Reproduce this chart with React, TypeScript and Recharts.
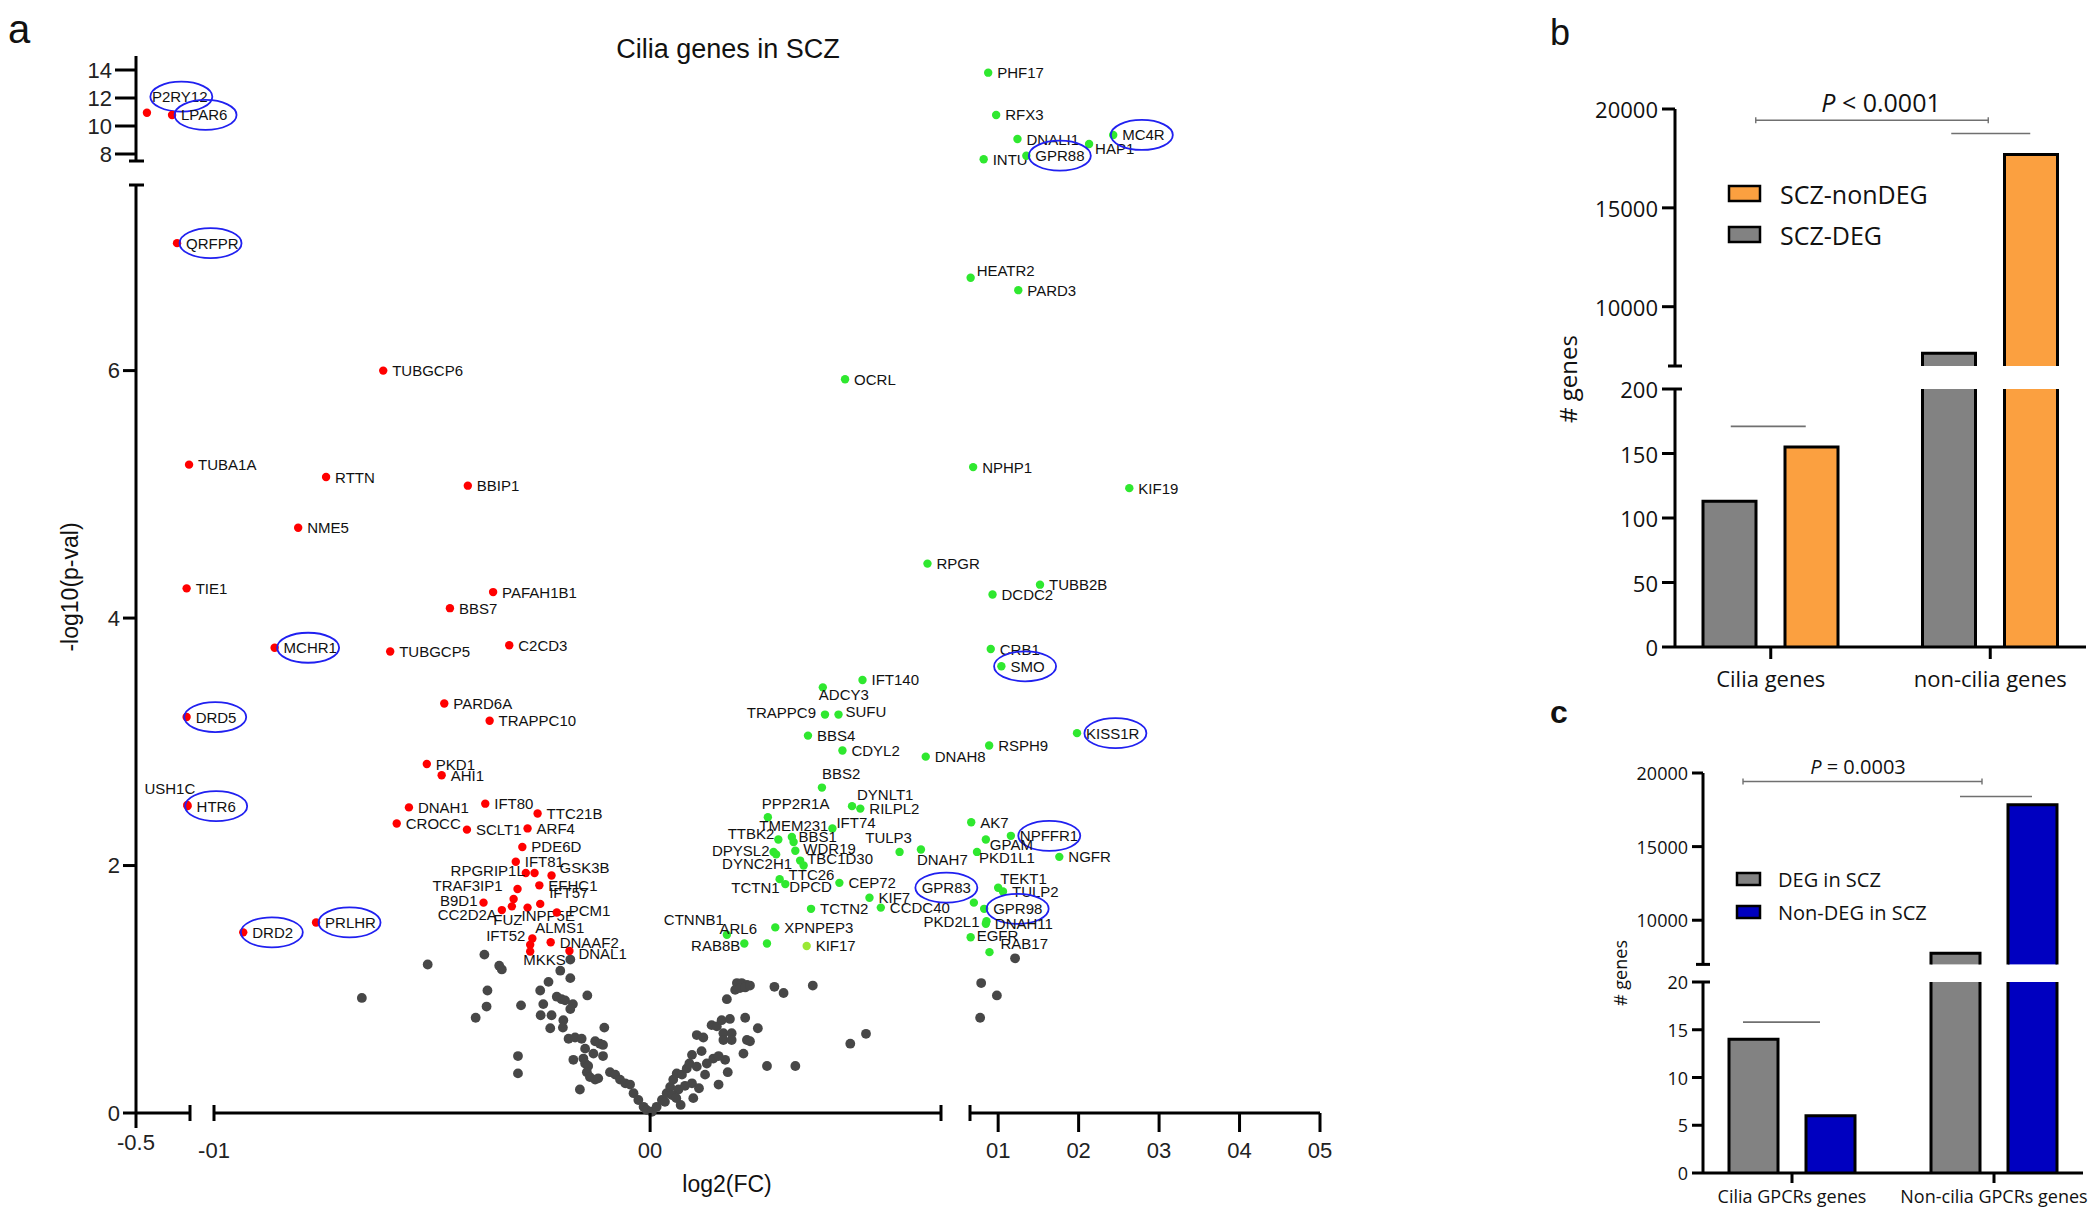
import { Bar, BarChart, Legend, ReferenceLine, Scatter, ScatterChart, XAxis, YAxis } from "recharts";

const SANS = "'Liberation Sans', Arial, sans-serif";
const OPEN = "'Open Sans', sans-serif";
const RED = "#ff0000";
const GREEN = "#2fe82f";
const LIME = "#9be835";
const DARK = "#474747";
const ORANGE = "#fba040";
const GREY_BAR = "#828282";
const BLUE = "#0000c0";
const RING = "#2020f0";
const LINE = "#707070";

// ---- panel a data: [gene, log2(FC), -log10(p)] ----
type Gene = [string, number, number];

const RED_GENES: Gene[] = [
  ["P2RY12", -0.419, 10.95], ["LPAR6", -0.233, 10.79], ["QRFPR", -0.196, 7.03],
  ["TUBGCP6", -0.0612, 6.0], ["TUBA1A", -0.107, 5.24], ["RTTN", -0.0743, 5.14],
  ["BBIP1", -0.0418, 5.07], ["NME5", -0.0807, 4.73], ["TIE1", -0.125, 4.24],
  ["PAFAH1B1", -0.036, 4.21], ["BBS7", -0.0459, 4.08], ["MCHR1", -0.0861, 3.76],
  ["TUBGCP5", -0.0596, 3.73], ["C2CD3", -0.0323, 3.78], ["PARD6A", -0.0472, 3.31],
  ["TRAPPC10", -0.0368, 3.17], ["DRD5", -0.125, 3.2], ["PKD1", -0.0512, 2.82],
  ["AHI1", -0.0478, 2.73], ["USH1C", -0.12, 2.49], ["HTR6", -0.118, 2.48],
  ["DNAH1", -0.0553, 2.47], ["IFT80", -0.0378, 2.5], ["TTC21B", -0.0258, 2.42],
  ["CROCC", -0.0581, 2.34], ["SCLT1", -0.042, 2.29], ["ARF4", -0.0281, 2.3],
  ["PDE6D", -0.0293, 2.15], ["IFT81", -0.0308, 2.03], ["RPGRIP1L", -0.0285, 1.94],
  ["", -0.0265, 1.94], ["GSK3B", -0.0226, 1.92], ["EFHC1", -0.0254, 1.84],
  ["TRAF3IP1", -0.0304, 1.81], ["IFT57", -0.0252, 1.69], ["B9D1", -0.0382, 1.7],
  ["", -0.0313, 1.73], ["FUZ", -0.0317, 1.67], ["CC2D2A", -0.034, 1.64],
  ["INPP5E", -0.0281, 1.66], ["PCM1", -0.0214, 1.62], ["IFT52", -0.027, 1.41],
  ["ALMS1", -0.0275, 1.36], ["DNAAF2", -0.0228, 1.38], ["DNAL1", -0.0185, 1.31],
  ["MKKS", -0.0275, 1.305], ["DRD2", -0.0933, 1.46], ["PRLHR", -0.0766, 1.54],
];

const GREEN_GENES: Gene[] = [
  ["PHF17", 0.0876, 13.81], ["RFX3", 0.0975, 10.79], ["DNALI1", 0.124, 9.07],
  ["HAP1", 0.213, 8.71], ["MC4R", 0.243, 9.36], ["INTU", 0.082, 7.62],
  ["GPR88", 0.135, 7.88], ["HEATR2", 0.0658, 6.75], ["PARD3", 0.125, 6.65],
  ["OCRL", 0.0447, 5.93], ["NPHP1", 0.0689, 5.22], ["KIF19", 0.263, 5.05],
  ["RPGR", 0.0636, 4.44], ["TUBB2B", 0.152, 4.27], ["DCDC2", 0.093, 4.19],
  ["CRB1", 0.0908, 3.75], ["SMO", 0.104, 3.61], ["IFT140", 0.0487, 3.5],
  ["ADCY3", 0.0396, 3.44], ["TRAPPC9", 0.0401, 3.22], ["SUFU", 0.0432, 3.22],
  ["BBS4", 0.0362, 3.05], ["CDYL2", 0.0441, 2.93], ["DNAH8", 0.0632, 2.88],
  ["RSPH9", 0.0888, 2.97], ["KISS1R", 0.198, 3.07], ["BBS2", 0.0394, 2.63],
  ["DYNLT1", 0.0463, 2.48], ["RILPL2", 0.0482, 2.46], ["PPP2R1A", 0.027, 2.39],
  ["IFT74", 0.0418, 2.3], ["TMEM231", 0.0325, 2.23], ["TTBK2", 0.0294, 2.21],
  ["BBS1", 0.0329, 2.19], ["WDR19", 0.0333, 2.12], ["DPYSL2", 0.0283, 2.11],
  ["DYNC2H1", 0.0289, 2.09], ["TBC1D30", 0.0344, 2.04], ["TTC26", 0.0352, 2.0],
  ["TCTN1", 0.0297, 1.89], ["DPCD", 0.031, 1.85], ["TULP3", 0.0572, 2.11],
  ["DNAH7", 0.0621, 2.13], ["AK7", 0.0665, 2.35], ["NPFFR1", 0.1158, 2.24],
  ["GPAM", 0.0847, 2.21], ["PKD1L1", 0.0737, 2.11], ["NGFR", 0.176, 2.07],
  ["CEP72", 0.0434, 1.86], ["KIF7", 0.0503, 1.74], ["CCDC40", 0.0529, 1.66],
  ["TCTN2", 0.0369, 1.65], ["GPR83", 0.0698, 1.7], ["TEKT1", 0.1, 1.82],
  ["TULP2", 0.106, 1.79], ["GPR98", 0.0826, 1.65], ["PKD2L1", 0.0855, 1.55],
  ["DNAH11", 0.0847, 1.53], ["EGFR", 0.0658, 1.42], ["RAB17", 0.0892, 1.3],
  ["CTNNB1", 0.0176, 1.44], ["ARL6", 0.0268, 1.37], ["XPNPEP3", 0.0287, 1.5],
  ["RAB8B", 0.0216, 1.37],
];

const LIME_GENES: Gene[] = [["KIF17", 0.0359, 1.35]];

const GREY_POINTS: [number, number][] = [
  [-0.0661, 0.93], [-0.051, 1.2], [-0.038, 1.28], [-0.0346, 1.19], [-0.034, 1.16], [-0.0373, 0.99],
  [-0.0375, 0.86], [-0.04, 0.77], [-0.0296, 0.87], [-0.0303, 0.46], [-0.0303, 0.32],
  [-0.0183, 1.24], [-0.0206, 1.15], [-0.0183, 1.09], [-0.0233, 1.06], [-0.0252, 0.99], [-0.0144, 0.95],
  [-0.0214, 0.94], [-0.0203, 0.92], [-0.0195, 0.91], [-0.0177, 0.88], [-0.0183, 0.84], [-0.0245, 0.88],
  [-0.0251, 0.79], [-0.0226, 0.79], [-0.0199, 0.75], [-0.02, 0.69], [-0.0229, 0.685], [-0.0105, 0.69],
  [-0.0187, 0.6], [-0.0172, 0.61], [-0.0157, 0.6], [-0.0126, 0.58], [-0.0115, 0.56], [-0.0108, 0.55],
  [-0.0149, 0.52], [-0.0108, 0.46], [-0.013, 0.48], [-0.0176, 0.43], [-0.0153, 0.44], [-0.0149, 0.4],
  [-0.0142, 0.38], [-0.0145, 0.33], [-0.0138, 0.29], [-0.0126, 0.27], [-0.0119, 0.28], [-0.0161, 0.19],
  [-0.0092, 0.33], [-0.008, 0.31], [-0.0069, 0.27], [-0.0057, 0.24], [-0.0046, 0.23], [-0.0038, 0.16],
  [-0.0027, 0.105], [-0.0015, 0.05], [-0.0008, 0.025], [0.0004, 0.01],
  [0.0015, 0.05], [0.0027, 0.105], [0.0038, 0.16], [0.0046, 0.21], [0.0053, 0.27], [0.0061, 0.32],
  [0.0065, 0.19], [0.0034, 0.09], [0.005, 0.145], [0.0073, 0.31], [0.0084, 0.36], [0.0096, 0.47],
  [0.009, 0.4], [0.0099, 0.12], [0.007, 0.065], [0.0096, 0.24], [0.0107, 0.375], [0.0126, 0.31],
  [0.0157, 0.23], [0.0178, 0.33], [0.0145, 0.44], [0.0172, 0.43], [0.0157, 0.46], [0.0214, 0.48],
  [0.0107, 0.63], [0.0122, 0.61], [0.0141, 0.71], [0.0153, 0.7], [0.0164, 0.75], [0.0183, 0.76],
  [0.0168, 0.645], [0.0187, 0.645], [0.0168, 0.59], [0.0187, 0.59], [0.0218, 0.77], [0.0247, 0.685],
  [0.0222, 0.59], [0.0229, 0.58], [0.0268, 0.38], [0.0333, 0.38], [0.0459, 0.56], [0.0495, 0.64],
  [0.0199, 1.05], [0.021, 1.05], [0.0222, 1.035], [0.0195, 0.995], [0.0206, 1.01], [0.0218, 1.015],
  [0.0229, 1.03], [0.0176, 0.92], [0.0285, 1.02], [0.0306, 0.97], [0.0373, 1.03],
  [0.0112, 0.2], [0.0118, 0.5], [0.008, 0.22], [0.006, 0.12], [0.013, 0.4],
  [0.0789, 1.05], [0.0984, 0.95], [0.0776, 0.77], [0.121, 1.25],
];

const GPCR_GENES = [
  "P2RY12", "LPAR6", "QRFPR", "MCHR1", "DRD5", "HTR6", "DRD2", "PRLHR",
  "GPR88", "MC4R", "SMO", "KISS1R", "NPFFR1", "GPR83", "GPR98",
];

const P_CUTOFF = 1.301;
const X_TICKS = [-0.5, -0.1, 0, 0.1, 0.2, 0.3, 0.4, 0.5];
const X_TICK_TEXT = ["-0.5", "-01", "00", "01", "02", "03", "04", "05"];

// ---- panel b / c data ----
const B_CATS = ["Cilia genes", "non-cilia genes"];
const B_DEG = [113, 7650];
const B_NONDEG = [155, 17700];

const C_CATS = ["Cilia GPCRs genes", "Non-cilia GPCRs genes"];
const C_DEG = [14, 7750];
const C_NONDEG = [6, 17850];

// label placement exceptions: [dx, dy, anchor]
const LABEL_AT: Record<string, [number, number, string]> = {
  P2RY12: [5, -16, "start"], USH1C: [8, -16, "end"], RPGRIP1L: [-1, -2, "end"],
  TRAF3IP1: [-15, -4, "end"], B9D1: [-6, -2, "end"], CC2D2A: [-5, 4, "end"],
  FUZ: [-4, 13, "middle"], INPP5E: [-6, 8, "start"], PCM1: [12, -2, "start"],
  IFT57: [9, -11, "start"], GSK3B: [8, -8, "start"], ALMS1: [5, -17, "start"],
  IFT52: [-7, -3, "end"], MKKS: [-7, 8, "start"], DNAL1: [9, 3, "start"],
  HEATR2: [6, -7, "start"], HAP1: [6, 4, "start"], ADCY3: [-4, 7, "start"],
  TRAPPC9: [-9, -2, "end"], SUFU: [7, -3, "start"], BBS2: [0, -14, "start"],
  DYNLT1: [5, -12, "start"], PPP2R1A: [-6, -14, "start"], TMEM231: [2, -12, "middle"],
  IFT74: [4, -6, "start"], TTBK2: [-4, -6, "end"], BBS1: [5, -6, "start"],
  WDR19: [8, -2, "start"], DPYSL2: [-4, -1, "end"], DYNC2H1: [16, 9, "end"],
  TBC1D30: [7, -2, "start"], TTC26: [-15, 9, "start"], TCTN1: [0, 8, "end"],
  DPCD: [4, 2, "start"], CTNNB1: [-3, -15, "end"], ARL6: [-10, -15, "end"],
  RAB8B: [-4, 2, "end"], TULP3: [-11, -14, "middle"], DNAH7: [-4, 10, "start"],
  GPAM: [4, 5, "start"], PKD1L1: [2, 6, "start"], TEKT1: [2, -9, "start"],
  PKD2L1: [-7, 0, "end"], EGFR: [6, -2, "start"], RAB17: [11, -9, "start"],
  GPR83: [-3, -15, "end"],
};

// ---- panel a layout (broken axes) ----
const X_BREAKS = [-0.1, 0.065];
const X_SEGS = [
  { domain: [-0.5, -0.1], left: 136, right: 190, ticks: [-0.5, -0.1], caps: [-0.1], labelled: [-0.5] },
  { domain: [-0.1, 0.0667], left: 214, right: 941, ticks: [-0.1, 0, 0.0667], caps: [-0.1, 0.0667], labelled: [-0.1, 0] },
  { domain: [0.065, 0.5], left: 970, right: 1320, ticks: [0.065, 0.1, 0.2, 0.3, 0.4, 0.5], caps: [0.065], labelled: [0.1, 0.2, 0.3, 0.4, 0.5] },
];
const Y_SEGS = [
  { domain: [7.5, 15], top: 56, bottom: 161, ticks: [7.5, 8, 10, 12, 14], caps: [7.5], tickLen: 21 },
  { domain: [0, 7.5], top: 185, bottom: 1113, ticks: [0, 2, 4, 6, 7.5], caps: [7.5], tickLen: 13 },
];
const PAD = 70;

const near = (a: number, b: number) => Math.abs(a - b) < 1e-9;
const toPts = (list: Gene[]) => list.map(([name, x, y]) => ({ name, x, y }));
const GREY_PTS = GREY_POINTS.map(([x, y]) => ({ name: "", x, y }));

function inX(i: number, x: number) {
  if (i === 0) return x < X_BREAKS[0];
  if (i === 1) return x >= X_BREAKS[0] && x < X_BREAKS[1];
  return x >= X_BREAKS[1];
}
const inY = (i: number, y: number) => (i === 0 ? y >= 7.5 : y < 7.5);

function makeDot(color: string, r: number) {
  return (p: any) => {
    const { cx, cy, payload } = p;
    if (cx == null || cy == null) return <g />;
    const name: string = payload.name;
    if (!name) return <circle cx={cx} cy={cy} r={r} fill={color} />;
    const [dx, dy, anchor] = LABEL_AT[name] ?? [9, 0, "start"];
    const tx = cx + dx;
    const ty = cy + dy;
    const w = name.length * 9.8;
    const mid = anchor === "start" ? tx + w / 2 : anchor === "end" ? tx - w / 2 : tx;
    return (
      <g>
        <circle cx={cx} cy={cy} r={r} fill={color} />
        <text x={tx} y={ty} textAnchor={anchor} dominantBaseline="central" fontFamily={SANS} fontSize={15} fill="#111">
          {name}
        </text>
        {GPCR_GENES.includes(name) && (
          <ellipse cx={mid} cy={ty} rx={31} ry={15} fill="none" stroke={RING} strokeWidth={1.8} />
        )}
      </g>
    );
  };
}

const greyDot = makeDot(DARK, 4.9);
const redDot = makeDot(RED, 4.2);
const greenDot = makeDot(GREEN, 4.2);
const limeDot = makeDot(LIME, 4.2);

function XTick({ x, y, payload, seg }: any) {
  const v = payload.value;
  const cap = seg.caps.some((c: number) => near(c, v));
  const lab = seg.labelled.some((c: number) => near(c, v));
  const idx = X_TICKS.findIndex((t) => near(t, v));
  const first = near(v, -0.5);
  return (
    <g>
      {cap && <line x1={x} x2={x} y1={y - 8} y2={y + 8} stroke="#000" strokeWidth={3} />}
      {lab && !cap && <line x1={x} x2={x} y1={y} y2={y + (first ? 15 : 19)} stroke="#000" strokeWidth={3} />}
      {lab && (
        <text x={x} y={y + (first ? 37 : 45)} textAnchor="middle" fontFamily={SANS} fontSize={22} fill="#222">
          {X_TICK_TEXT[idx]}
        </text>
      )}
    </g>
  );
}

function YTick({ x, y, payload, seg }: any) {
  const v = payload.value;
  if (seg.caps.some((c: number) => near(c, v))) {
    return <line x1={x - 7} x2={x + 8} y1={y} y2={y} stroke="#000" strokeWidth={3} />;
  }
  return (
    <g>
      <line x1={x - seg.tickLen} x2={x} y1={y} y2={y} stroke="#000" strokeWidth={3} />
      <text x={x - seg.tickLen - 3} y={y} textAnchor="end" dominantBaseline="central" fontFamily={SANS} fontSize={22} fill="#222">
        {v}
      </text>
    </g>
  );
}

function VolcanoSegment({ xi, yi }: { xi: number; yi: number }) {
  const xs = X_SEGS[xi];
  const ys = Y_SEGS[yi];
  const showX = yi === 1;
  const showY = xi === 0;
  const pick = (pts: any[]) => pts.filter((p) => inX(xi, p.x) && inY(yi, p.y));
  return (
    <div style={{ position: "absolute", left: xs.left - PAD, top: ys.top - PAD }}>
      <ScatterChart
        width={xs.right - xs.left + 2 * PAD}
        height={ys.bottom - ys.top + 2 * PAD}
        margin={{ top: PAD, right: PAD, bottom: showX ? 0 : PAD, left: showY ? 0 : PAD }}
      >
        <XAxis
          type="number"
          dataKey="x"
          domain={xs.domain}
          hide={!showX}
          height={PAD}
          ticks={xs.ticks}
          interval={0}
          tickSize={0}
          tickMargin={0}
          tickLine={false}
          axisLine={{ stroke: "#000", strokeWidth: 3 }}
          tick={(p: any) => <XTick {...p} seg={xs} />}
        />
        <YAxis
          type="number"
          dataKey="y"
          domain={ys.domain}
          hide={!showY}
          width={PAD}
          ticks={ys.ticks}
          interval={0}
          tickSize={0}
          tickMargin={0}
          tickLine={false}
          axisLine={{ stroke: "#000", strokeWidth: 3 }}
          tick={(p: any) => <YTick {...p} seg={ys} />}
        />
        <Scatter data={pick(GREY_PTS)} shape={greyDot} isAnimationActive={false} />
        <Scatter data={pick(toPts(RED_GENES))} shape={redDot} isAnimationActive={false} />
        <Scatter data={pick(toPts(GREEN_GENES))} shape={greenDot} isAnimationActive={false} />
        <Scatter data={pick(toPts(LIME_GENES))} shape={limeDot} isAnimationActive={false} />
      </ScatterChart>
    </div>
  );
}

function CutoffLine() {
  const ys = Y_SEGS[1];
  const left = X_SEGS[0].left;
  const right = X_SEGS[2].right;
  return (
    <div style={{ position: "absolute", left, top: ys.top }}>
      <ScatterChart width={right - left} height={ys.bottom - ys.top} margin={{ top: 0, right: 0, bottom: 0, left: 0 }}>
        <XAxis type="number" dataKey="x" domain={[0, 1]} hide />
        <YAxis type="number" dataKey="y" domain={ys.domain} hide />
        <Scatter data={[]} isAnimationActive={false} />
        <ReferenceLine y={P_CUTOFF} stroke="#000" strokeWidth={1.6} ifOverflow="visible" />
      </ScatterChart>
    </div>
  );
}

// ---- panels b and c (broken bar charts) ----
const PADL = 110;
const PADT = 60;
const PADR = 30;
const PADB = 60;

function barShape(fill: string, raw: string, part: string, lowMax: number) {
  return (p: any) => {
    const { x, y, width, height, payload } = p;
    if (x == null || !height || height <= 0) return <g />;
    const openTop = part === "low" && payload[raw] > lowMax;
    const d = openTop
      ? `M${x},${y + height}V${y}M${x + width},${y}V${y + height}`
      : `M${x},${y + height}V${y}H${x + width}V${y + height}`;
    return (
      <g>
        <rect x={x} y={y} width={width} height={height} fill={fill} />
        <path d={d} fill="none" stroke="#000" strokeWidth={3} />
      </g>
    );
  };
}

function lineShape(dl: number, dr: number, bracket: boolean) {
  return (p: any) => {
    const { x1, y1, x2 } = p;
    if (x1 == null) return <g />;
    const a = x1 + dl;
    const b = x2 + dr;
    return (
      <g>
        <line x1={a} x2={b} y1={y1} y2={y1} stroke={LINE} strokeWidth={1.6} />
        {bracket && <line x1={a} x2={a} y1={y1 - 3} y2={y1 + 3} stroke={LINE} strokeWidth={1.4} />}
        {bracket && <line x1={b} x2={b} y1={y1 - 3} y2={y1 + 3} stroke={LINE} strokeWidth={1.4} />}
      </g>
    );
  };
}

function BrokenBars({ cats, deg, non, color, legend, g }: any) {
  const rows = cats.map((cat: string, i: number) => ({
    cat,
    deg: deg[i],
    non: non[i],
    degLow: Math.min(deg[i], g.lowMax),
    nonLow: Math.min(non[i], g.lowMax),
    degHigh: deg[i] > g.highMin ? deg[i] : null,
    nonHigh: non[i] > g.highMin ? non[i] : null,
  }));
  const width = g.right - g.left + PADL + PADR;
  const yTick = (ticks: any) => (p: any) => {
    const { x, y, payload } = p;
    const v = payload.value;
    if (v === ticks.cap) return <line x1={x - 7} x2={x + 7} y1={y} y2={y} stroke="#000" strokeWidth={3} />;
    return (
      <g>
        <line x1={x - g.tickLen} x2={v === ticks.stub ? x + 7 : x} y1={y} y2={y} stroke="#000" strokeWidth={3} />
        <text x={x - g.tickLen - 4} y={y} textAnchor="end" dominantBaseline="central" fontFamily={OPEN} fontSize={g.font} fill="#111">
          {v}
        </text>
      </g>
    );
  };
  const xTick = (p: any) => (
    <g>
      <line x1={p.x} x2={p.x} y1={p.y} y2={p.y + g.xTickLen} stroke="#000" strokeWidth={3} />
      <text x={p.x} y={p.y + g.xLabelDy} textAnchor="middle" dominantBaseline="central" fontFamily={OPEN} fontSize={g.font} fill="#111">
        {p.payload.value}
      </text>
    </g>
  );
  const legendBox = () => (
    <svg width={g.legendW} height={g.legendRow * 2 + 4} style={{ overflow: "visible" }}>
      {legend.map((it: any, i: number) => (
        <g key={it.label} transform={`translate(2, ${2 + i * g.legendRow})`}>
          <rect width={g.swatchW} height={g.swatchH} fill={it.color} stroke="#000" strokeWidth={2.5} />
          <text x={g.legendText} y={g.swatchH / 2} dominantBaseline="central" fontFamily={OPEN} fontSize={g.legendFont} fill="#111">
            {it.label}
          </text>
        </g>
      ))}
    </svg>
  );
  const upTop = g.highTop - PADT;
  const lowTop = g.lowTop - PADT;
  return (
    <>
      <div style={{ position: "absolute", left: g.left - PADL, top: upTop }}>
        <BarChart
          width={width}
          height={g.highBottom - g.highTop + PADT + PADB}
          data={rows}
          barGap={g.barGap}
          margin={{ top: PADT, right: PADR, bottom: PADB, left: 0 }}
        >
          <XAxis dataKey="cat" type="category" hide padding={{ left: g.pad, right: g.pad }} />
          <YAxis
            type="number"
            domain={[g.highMin, g.highMax]}
            ticks={g.highTicks}
            interval={0}
            width={PADL}
            tickSize={0}
            tickMargin={0}
            tickLine={false}
            axisLine={{ stroke: "#000", strokeWidth: 3 }}
            tick={yTick({ cap: g.highMin, stub: null })}
          />
          <Bar dataKey="degHigh" barSize={g.barSize} shape={barShape(GREY_BAR, "deg", "high", g.lowMax)} isAnimationActive={false} />
          <Bar dataKey="nonHigh" barSize={g.barSize} shape={barShape(color, "non", "high", g.lowMax)} isAnimationActive={false} />
          <ReferenceLine
            segment={[{ x: cats[0], y: g.bracketY }, { x: cats[1], y: g.bracketY }]}
            ifOverflow="visible"
            shape={lineShape(g.bracketDl, g.bracketDr, true)}
          />
          <ReferenceLine
            segment={[{ x: cats[1], y: g.upLineY }, { x: cats[1], y: g.upLineY }]}
            ifOverflow="visible"
            shape={lineShape(g.upDl, g.upDr, false)}
          />
          <Legend
            layout="vertical"
            align="center"
            verticalAlign="middle"
            wrapperStyle={{ left: g.legendX - (g.left - PADL), top: g.legendY - upTop, width: g.legendW }}
            content={legendBox}
          />
        </BarChart>
      </div>
      <div style={{ position: "absolute", left: g.left - PADL, top: lowTop }}>
        <BarChart
          width={width}
          height={g.lowBottom - g.lowTop + PADT + PADB}
          data={rows}
          barGap={g.barGap}
          margin={{ top: PADT, right: PADR, bottom: 0, left: 0 }}
        >
          <XAxis
            dataKey="cat"
            type="category"
            height={PADB}
            padding={{ left: g.pad, right: g.pad }}
            interval={0}
            tickSize={0}
            tickMargin={0}
            tickLine={false}
            axisLine={{ stroke: "#000", strokeWidth: 3 }}
            tick={xTick}
          />
          <YAxis
            type="number"
            domain={[0, g.lowMax]}
            ticks={g.lowTicks}
            interval={0}
            width={PADL}
            tickSize={0}
            tickMargin={0}
            tickLine={false}
            axisLine={{ stroke: "#000", strokeWidth: 3 }}
            tick={yTick({ cap: null, stub: g.lowMax })}
          />
          <Bar dataKey="degLow" barSize={g.barSize} shape={barShape(GREY_BAR, "deg", "low", g.lowMax)} isAnimationActive={false} />
          <Bar dataKey="nonLow" barSize={g.barSize} shape={barShape(color, "non", "low", g.lowMax)} isAnimationActive={false} />
          <ReferenceLine
            segment={[{ x: cats[0], y: g.lowLineY }, { x: cats[0], y: g.lowLineY }]}
            ifOverflow="visible"
            shape={lineShape(g.lowDl, g.lowDr, false)}
          />
        </BarChart>
      </div>
    </>
  );
}

const B_LAYOUT = {
  left: 1675, right: 2086, highTop: 108.5, highBottom: 365.5, lowTop: 389, lowBottom: 647,
  highMin: 7000, highMax: 20000, lowMax: 200,
  highTicks: [7000, 10000, 15000, 20000], lowTicks: [0, 50, 100, 150, 200],
  pad: -14, barSize: 53, barGap: 29, font: 22, tickLen: 13, xTickLen: 12, xLabelDy: 31,
  bracketY: 19430, bracketDl: -15, bracketDr: -2, upLineY: 18760, upDl: -39, upDr: 40,
  lowLineY: 171, lowDl: -40, lowDr: 35,
  legendX: 1727, legendY: 184, legendW: 260, legendRow: 41, swatchW: 31, swatchH: 15,
  legendText: 51, legendFont: 25,
};

const C_LAYOUT = {
  left: 1703, right: 2083, highTop: 772.5, highBottom: 963.9, lowTop: 982, lowBottom: 1173,
  highMin: 7000, highMax: 20000, lowMax: 20,
  highTicks: [7000, 10000, 15000, 20000], lowTicks: [0, 5, 10, 15, 20],
  pad: -12, barSize: 49, barGap: 28, font: 18, tickLen: 11, xTickLen: 10, xLabelDy: 23,
  bracketY: 19420, bracketDl: -49, bracketDr: -12, upLineY: 18400, upDl: -34, upDr: 38,
  lowLineY: 15.8, lowDl: -49, lowDr: 28,
  legendX: 1735, legendY: 871, legendW: 220, legendRow: 33, swatchW: 23, swatchH: 12,
  legendText: 41, legendFont: 20,
};

function Titles() {
  return (
    <svg width={2100} height={1215} style={{ position: "absolute", left: 0, top: 0 }}>
      <text x={8} y={43} fontFamily={SANS} fontSize={40} fill="#111">a</text>
      <text x={728} y={58} textAnchor="middle" fontFamily={SANS} fontSize={27} fill="#111">Cilia genes in SCZ</text>
      <text transform="translate(78,587) rotate(-90)" textAnchor="middle" fontFamily={SANS} fontSize={23} fill="#111">-log10(p-val)</text>
      <text x={727} y={1192} textAnchor="middle" fontFamily={SANS} fontSize={23} fill="#111">log2(FC)</text>
      <text x={1550} y={45} fontFamily={SANS} fontSize={36} fill="#111">b</text>
      <text x={1550} y={723} fontFamily={SANS} fontWeight="bold" fontSize={32} fill="#111">c</text>
      <text transform="translate(1577,379) rotate(-90)" textAnchor="middle" fontFamily={OPEN} fontSize={24} fill="#111"># genes</text>
      <text transform="translate(1627,973) rotate(-90)" textAnchor="middle" fontFamily={OPEN} fontSize={18} fill="#111"># genes</text>
      <text x={1881} y={112} textAnchor="middle" fontFamily={OPEN} fontSize={25} fill="#111">
        <tspan fontStyle="italic">P</tspan> {"< 0.0001"}
      </text>
      <text x={1858} y={774} textAnchor="middle" fontFamily={OPEN} fontSize={20} fill="#111">
        <tspan fontStyle="italic">P</tspan> {"= 0.0003"}
      </text>
    </svg>
  );
}

export default function App() {
  return (
    <div style={{ position: "relative", width: 2100, height: 1215, background: "#fff", overflow: "hidden" }}>
      <style>{`body{margin:0}.recharts-surface{overflow:visible}.recharts-wrapper{overflow:visible}`}</style>
      <Titles />
      <CutoffLine />
      {Y_SEGS.map((_, yi) => X_SEGS.map((__, xi) => <VolcanoSegment key={`${xi}-${yi}`} xi={xi} yi={yi} />))}
      <BrokenBars
        cats={B_CATS}
        deg={B_DEG}
        non={B_NONDEG}
        color={ORANGE}
        legend={[{ label: "SCZ-nonDEG", color: ORANGE }, { label: "SCZ-DEG", color: GREY_BAR }]}
        g={B_LAYOUT}
      />
      <BrokenBars
        cats={C_CATS}
        deg={C_DEG}
        non={C_NONDEG}
        color={BLUE}
        legend={[{ label: "DEG in SCZ", color: GREY_BAR }, { label: "Non-DEG in SCZ", color: BLUE }]}
        g={C_LAYOUT}
      />
    </div>
  );
}
